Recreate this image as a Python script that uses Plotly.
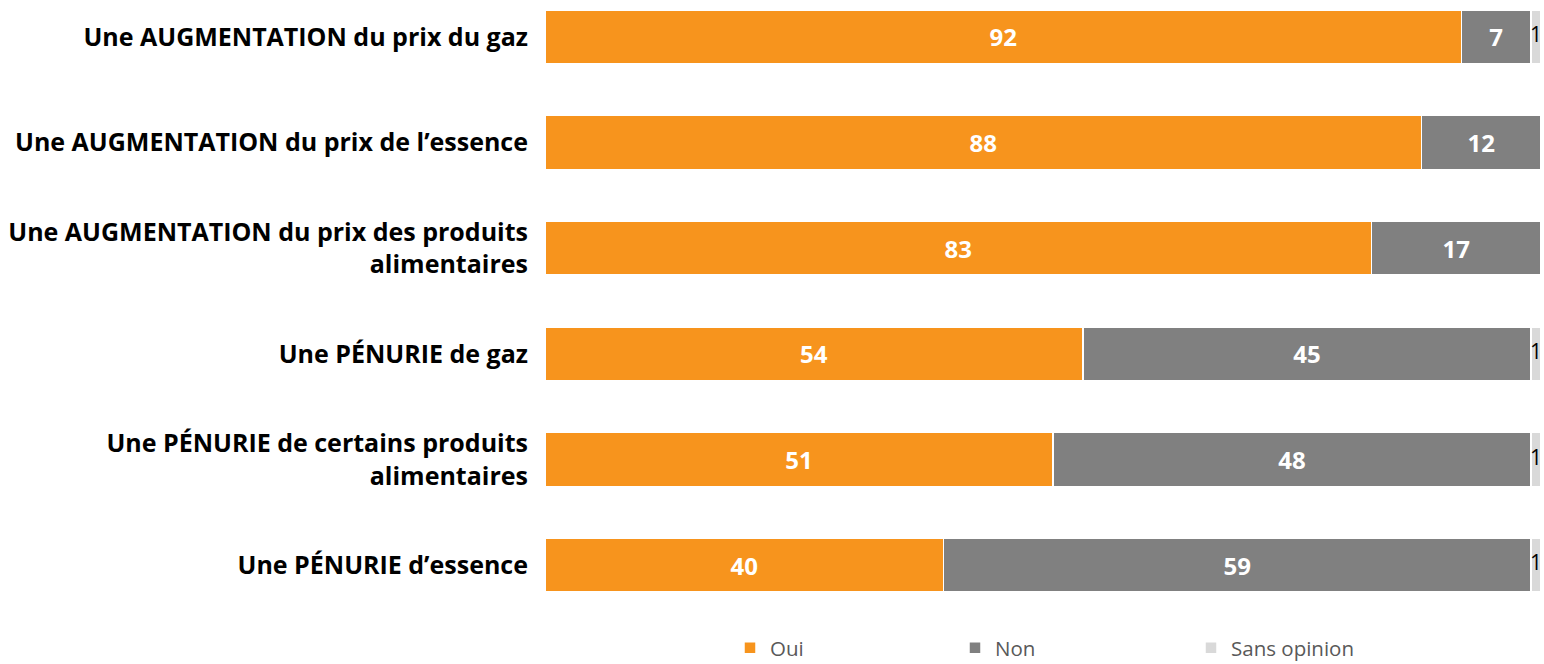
import plotly.graph_objects as go

categories = [
    "Une AUGMENTATION du prix du gaz",
    "Une AUGMENTATION du prix de l’essence",
    "Une AUGMENTATION du prix des produits<br>alimentaires",
    "Une PÉNURIE de gaz",
    "Une PÉNURIE de certains produits<br>alimentaires",
    "Une PÉNURIE d’essence",
]
oui = [92, 88, 83, 54, 51, 40]
non = [7, 12, 17, 45, 48, 59]
sans_opinion = [1, 0, 0, 1, 1, 1]

FONT = "Open Sans"
fig = go.Figure()
line = dict(color="white", width=1.5)
fig.add_trace(go.Bar(
    y=categories, x=oui, name="Oui", orientation="h", legend="legend",
    marker=dict(color="#F7941D", line=line),
    text=oui, textposition="inside", insidetextanchor="middle",
    textfont=dict(family=FONT, size=24, color="white", weight="bold"),
))
fig.add_trace(go.Bar(
    y=categories, x=non, name="Non", orientation="h", legend="legend2",
    marker=dict(color="#808080", line=line),
    text=non, textposition="inside", insidetextanchor="middle",
    textfont=dict(family=FONT, size=24, color="white", weight="bold"),
))
fig.add_trace(go.Bar(
    y=categories, x=sans_opinion, name="Sans opinion", orientation="h", legend="legend3",
    marker=dict(color="#D9D9D9", line=line),
    textposition="none",
))
# labels for "Sans opinion"
so_cats = [c for c, s in zip(categories, sans_opinion) if s > 0]
so_x = [o + n + s / 2 for o, n, s in zip(oui, non, sans_opinion) if s > 0]
so_txt = [str(s) for s in sans_opinion if s > 0]
fig.add_trace(go.Scatter(
    y=so_cats, x=so_x, mode="text", text=so_txt, textposition="middle center",
    textfont=dict(family=FONT, size=21, color="black"),
    showlegend=False, hoverinfo="skip", cliponaxis=False,
))

leg_common = dict(orientation="h", xanchor="left", yref="container", y=16 / 664, yanchor="middle",
                  font=dict(family=FONT, size=20.5, color="#595959"),
                  bgcolor="rgba(0,0,0,0)")
fig.update_layout(
    width=1544, height=664,
    margin=dict(l=545, r=3, t=0, b=34),
    barmode="stack", bargap=0.49,
    plot_bgcolor="white", paper_bgcolor="white",
    uniformtext=dict(mode="show", minsize=8),
    xaxis=dict(range=[0, 100], visible=False, showgrid=False),
    yaxis=dict(range=[5.594, -0.349], showgrid=False, zeroline=False, automargin=False,
               tickfont=dict(family=FONT, size=25, color="black", weight="bold"),
               ticks="", ticklabelstandoff=16, categoryorder="array", categoryarray=categories),
    legend=dict(x=(730 - 545) / 996, **leg_common),
    legend2=dict(x=(955 - 545) / 996, **leg_common),
    legend3=dict(x=(1191 - 545) / 996, **leg_common),
    showlegend=True,
)
fig.write_html("out.html", config={"displayModeBar": False},
               post_script="document.body.style.margin='0';")
